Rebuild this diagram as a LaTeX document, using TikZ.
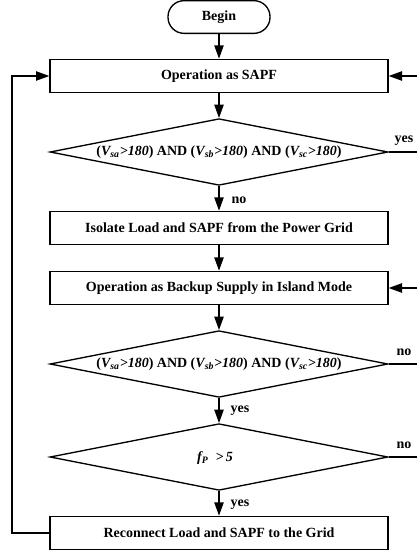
\documentclass[tikz,border=0pt]{standalone}
\usepackage{fontspec}
\setmainfont{Liberation Serif}
\usetikzlibrary{shapes.geometric,arrows.meta}

\tikzset{
	box/.style={draw,line width=1pt,minimum width=253.5pt,minimum height=25pt,inner sep=0pt},
	startbox/.style={draw,line width=1pt,rounded corners=12pt,minimum width=76.5pt,minimum height=24.5pt},
	decision/.style={draw,line width=1pt,diamond,aspect=5,inner sep=0pt,minimum width=253.5pt,minimum height=50pt},
	flow/.style={line width=1pt,-{Triangle[length=10pt,width=7pt]}},
	link/.style={line width=1pt},
	tag/.style={inner sep=0pt}
}

\begin{document}
\begin{tikzpicture}[x=0.75pt,y=-0.75pt,font=\bfseries\fontsize{10.5}{12}\selectfont]
	\useasboundingbox (0,0) rectangle (417,553);
	
	%BLOCKS
	\node[startbox] (begin) at (219,17) {Begin};
	\node[box] (sapf) at (219,76) {Operation as SAPF};
	\node[decision] (check1) at (219,152) {(\textit{V\textsubscript{sa}>180}) AND (\textit{V\textsubscript{sb}>180}) AND (\textit{V\textsubscript{sc}>180})};
	\node[box] (isolate) at (219,228) {Isolate Load and SAPF from the Power Grid};
	\node[box] (backup) at (219,288) {Operation as Backup Supply in Island Mode};
	\node[decision] (check2) at (219,364) {(\textit{V\textsubscript{sa}>180}) AND (\textit{V\textsubscript{sb}>180}) AND (\textit{V\textsubscript{sc}>180})};
	\node[decision] (freq) at (219,457) {};
	\node[tag] (freqtext) at (215,458) {\itshape f\textsubscript{P}\ \ >\,5};
	\node[box] (reconnect) at (219,533) {Reconnect Load and SAPF to the Grid};
	
	%ARROWS -- MAIN PATH
	\draw[flow] (begin) -- (sapf);
	\draw[flow] (sapf) -- (check1);
	\draw[flow] (check1) -- (isolate);
	\draw[flow] (isolate) -- (backup);
	\draw[flow] (backup) -- (check2);
	\draw[flow] (check2) -- (freq);
	\draw[flow] (freq) -- (reconnect);
	
	%LEFT LOOP
	\coordinate (loopbot) at (12,533);
	\coordinate (looptop) at (12,76);
	\draw[flow] (reconnect.west) -- (loopbot) -- (looptop) -- (sapf.west);
	
	%RIGHT SIDE (runs off the edge)
	\coordinate (edgesapf) at (417,76);
	\coordinate (edgecheck1) at (417,152);
	\coordinate (edgebackup) at (417,288);
	\coordinate (edgecheck2) at (417,364);
	\coordinate (edgefreq) at (417,457);
	\draw[flow] (edgesapf) -- (sapf.east);
	\draw[link] (check1.east) -- (edgecheck1);
	\draw[flow] (edgebackup) -- (backup.east);
	\draw[link] (check2.east) -- (edgecheck2);
	\draw[link] (freq.east) -- (edgefreq);
	
	%LABELS
	\node[tag] (yes1) at (404,141) {yes};
	\node[tag] (no1) at (239,200) {no};
	\node[tag] (no2) at (404,352) {no};
	\node[tag] (yes2) at (240,411) {yes};
	\node[tag] (no3) at (404,445) {no};
	\node[tag] (yes3) at (240,505) {yes};
\end{tikzpicture}
\end{document}
